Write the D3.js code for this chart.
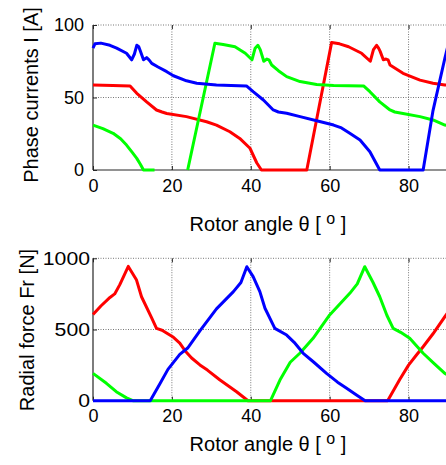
<!DOCTYPE html>
<html><head><meta charset="utf-8">
<script src="https://cdn.jsdelivr.net/npm/d3@7"></script>
<style>body{margin:0;background:#fff}svg{display:block}</style>
</head><body>
<svg id="chart" width="446" height="465"></svg>
<script>
const xTicks = [0, 20, 40, 60, 80];
const currentTicks = [0, 50, 100];
const forceTicks = [0, 500, 1000];

// Phase currents [A] vs rotor angle [deg]
const currentRed = [[0,58.6],[5,58.3],[9.4,58],[11.1,52.9],[13.6,47],[16.1,41.4],[17.5,40],[18.7,39],[23.7,36.8],[28.8,33.3],[31.3,31],[34.7,26.4],[37.2,21.8],[39.8,15],[41.5,5],[42.7,0],[54.2,0],[60.5,88],[62.5,87],[64.8,85],[68.1,80.5],[70.3,75],[71.1,83],[71.9,86],[72.4,84],[72.8,81.8],[73.6,76],[74.3,76.5],[74.8,76],[75.3,72.4],[78.6,66.7],[82.9,62],[86.2,59.8],[89.2,58.6],[90,58.5]];
const currentGreen = [[0,31],[2.5,28.5],[5.1,25.3],[7,21.5],[8.5,17.2],[10,12],[11.1,8],[12,4],[12.8,0],[15.6,0],null,[24,0],[30.9,87.4],[33,86.5],[36,85],[38.6,80.5],[40.3,76],[41.1,84],[41.8,86],[42.4,83],[43.3,75],[44.1,76.5],[44.6,76],[45.3,72.4],[47,68.5],[49.1,64.4],[52.5,61],[56.7,59],[61,58.2],[68.6,58],[70.2,54],[72.7,47],[75.3,41.4],[76.5,40],[78.6,39],[82.9,36.8],[86.2,34.5],[89.2,31],[90,30.5]];
const currentBlue = [[0,84],[0.5,87],[2,87.5],[4.3,86],[6,84],[8.5,80.5],[9.8,76],[10.5,80],[11.1,86],[11.6,85],[12,82],[12.8,76],[13.6,77.5],[14.2,76],[14.9,73.5],[16.5,71],[18.7,67.8],[20.4,65],[23.7,61.5],[26.3,59.8],[31.3,58.6],[35,58.2],[38.9,58],[40.6,54],[43.2,48.3],[45.7,41.4],[47,40],[49.1,39.1],[52.5,36.8],[56.7,34],[61,31],[63,29],[65.1,25.3],[67.7,20.7],[70.2,12.6],[71.5,6],[72.7,0],[83.7,0],[86.2,41],[89.2,77],[90,86]];

// Radial force [N] vs rotor angle [deg]
const forceRed = [[0,605],[2,665],[4.3,725],[5.5,750],[6.8,815],[8.95,943],[11,850],[12.3,730],[14.9,580],[16.1,508],[17.5,495],[20.4,445],[22,405],[23.5,345],[25,300],[27.1,251],[29,215],[32.2,145],[36.4,63],[39.3,0],[74.7,0],[77.8,150],[80,250],[82,321],[83.7,379],[86.2,470],[89.2,590],[90,620]];
const forceGreen = [[0,192],[3.4,122],[5.9,63],[8.5,20],[10.1,0],[45,0],[47.4,145],[50,270],[52.5,335],[55.8,438],[60,602],[65.1,754],[67,820],[68.9,941],[71,830],[72.7,730],[74.5,600],[76.1,508],[78,480],[80.3,438],[83.7,333],[86.5,260],[89.2,192],[90,180]];
const forceBlue = [[0,0],[14.5,0],[17,120],[19,220],[22,325],[24,370],[27.1,490],[31.3,645],[35.6,766],[37.5,830],[39,941],[40.6,871],[42.3,766],[43.6,649],[46.1,508],[49.1,461],[51,410],[53.3,333],[56,270],[59.2,192],[62,130],[64.3,87],[66.8,40],[69,0],[90,0]];

const svg = d3.select("#chart");
const FONT = "'Liberation Sans', Arial, sans-serif";
const x0 = 93, x1 = 448;

function panel(opts) {
  const x = d3.scaleLinear().domain([0, 90]).range([x0, x1]);
  const y = d3.scaleLinear().domain(opts.domain).range([opts.bottom, opts.top]);
  const g = svg.append("g");

  // grid
  g.append("g").selectAll("line").data(xTicks.filter(d => d > 0)).join("line")
    .attr("x1", d => x(d)).attr("x2", d => x(d))
    .attr("y1", opts.bottom).attr("y2", opts.top)
    .attr("stroke", "#777").attr("stroke-width", 1).attr("stroke-dasharray", "1,1.5");
  g.append("g").selectAll("line").data(opts.ticks.filter(d => d > 0)).join("line")
    .attr("x1", x0).attr("x2", 446)
    .attr("y1", d => y(d)).attr("y2", d => y(d))
    .attr("stroke", "#777").attr("stroke-width", 1).attr("stroke-dasharray", "1,1.5");

  // axes (inward ticks)
  const xa = d3.axisBottom(x).tickValues(xTicks).tickSize(-4).tickPadding(9).tickFormat(d3.format("d"));
  const gx = g.append("g").attr("transform", `translate(0,${opts.bottom})`).call(xa);
  const xaTop = d3.axisTop(x).tickValues(xTicks).tickSize(-4).tickFormat("");
  const gxt = g.append("g").attr("transform", `translate(0,${opts.top})`).call(xaTop);
  gxt.select(".domain").remove();
  const ya = d3.axisLeft(y).tickValues(opts.ticks).tickSize(-4).tickPadding(0).tickFormat(d3.format("d"));
  const gy = g.append("g").attr("transform", `translate(${x0},0)`).call(ya);
  [gx, gy, gxt].forEach(a => {
    a.selectAll(".domain").attr("stroke", "#262626").attr("stroke-width", 1.2);
    a.selectAll(".tick line").attr("stroke", "#262626");
    a.selectAll("text").attr("font-family", FONT).attr("font-size", 18).attr("fill", "#000");
  });
  gy.selectAll(".tick text").attr("x", null)
    .attr("transform", `translate(${opts.yTickRight},0) scale(${opts.yTickStretch},1)`);
  gx.select(".domain").attr("d", `M${x0},0H446`);
  gy.select(".domain").attr("d", `M0,${opts.bottom}V${opts.top}`);
  gx.selectAll(".tick text").attr("dy", "0.71em");

  // lines
  const line = d3.line().defined(d => d !== null).x(d => x(d[0])).y(d => y(d[1]));
  const series = [[opts.red, "#ff0000"], [opts.green, "#00ff00"], [opts.blue, "#0000ff"]];
  g.append("g").selectAll("path").data(series).join("path")
    .attr("d", d => line(d[0])).attr("fill", "none").attr("stroke", d => d[1])
    .attr("stroke-width", 3).attr("stroke-linejoin", "round").attr("stroke-linecap", "butt");

  // labels
  const xl = g.append("text").attr("x", 268).attr("y", opts.xlabelY).attr("text-anchor", "middle")
    .attr("font-family", FONT).attr("font-size", 20).attr("fill", "#000");
  xl.append("tspan").text("Rotor angle θ [ ");
  xl.append("tspan").attr("dy", -7).attr("font-size", 16).text("o");
  xl.append("tspan").attr("dy", 7).text(" ]");
  g.append("text").attr("transform", `translate(${opts.ylabelX},${opts.ylabelY}) rotate(-90)`)
    .attr("text-anchor", "middle").attr("font-family", FONT).attr("font-size", 20).attr("fill", "#000")
    .text(opts.ylabel);
}

panel({domain: [0, 100], top: 25, bottom: 170, ticks: currentTicks,
  red: currentRed, green: currentGreen, blue: currentBlue,
  yTickRight: -9, yTickStretch: 1,
  xlabelY: 231, ylabelX: 38, ylabelY: 95, ylabel: "Phase currents I [A]"});
panel({domain: [0, 1000], top: 258.3, bottom: 400.7, ticks: forceTicks,
  red: forceRed, green: forceGreen, blue: forceBlue,
  yTickRight: -3, yTickStretch: 1.18,
  xlabelY: 451, ylabelX: 34, ylabelY: 330, ylabel: "Radial force Fr [N]"});
</script>
</body></html>
